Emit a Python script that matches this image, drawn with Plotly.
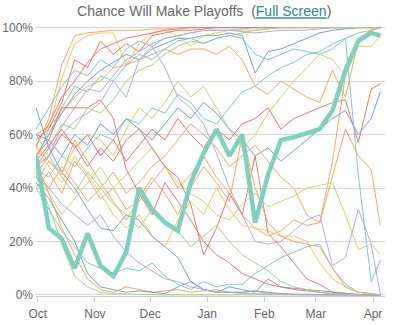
import plotly.graph_objects as go

dates = ["2013-09-30", "2013-10-07", "2013-10-14", "2013-10-21", "2013-10-28",
         "2013-11-04", "2013-11-11", "2013-11-18", "2013-11-25", "2013-12-02",
         "2013-12-09", "2013-12-16", "2013-12-23", "2013-12-30", "2014-01-06",
         "2014-01-13", "2014-01-20", "2014-01-27", "2014-02-03", "2014-02-10",
         "2014-02-17", "2014-02-24", "2014-03-03", "2014-03-10", "2014-03-17",
         "2014-03-24", "2014-03-31", "2014-04-05"]

# highlighted team (percent)
highlight = [52, 25, 21, 10, 23, 11, 7, 16, 40, 32, 27, 24, 42, 53, 62, 52, 60, 27,
             45, 58, 59, 60.5, 62, 69, 84, 95, 98, 97]

# other teams (percent) with their colours
t1 = [55, 66, 86, 97, 98, 98.5, 99, 99, 99, 99.5, 99.5, 100, 100, 100, 100, 100, 100, 100, 100, 100, 100, 100, 100, 100, 100, 100, 100, 100]
t2 = [50, 62, 81, 94, 97, 98, 98, 86, 94, 98, 99, 97, 93, 97, 98, 99, 99, 99, 99.5, 100, 100, 100, 100, 100, 100, 100, 100, 100]
t3 = [58, 62, 72, 88, 85, 95, 90, 94, 91, 97, 98, 99, 99, 99.5, 100, 100, 100, 100, 100, 100, 100, 100, 100, 100, 100, 100, 100, 100]
t4 = [52, 60, 68, 75, 80, 84, 87, 90, 88, 92, 94, 96, 96, 97, 97, 98, 97, 83, 91, 92, 94, 96, 98, 99, 99.5, 100, 100, 100]
t5 = [62, 70, 78, 84, 82, 88, 85, 92, 95, 93, 96, 97, 98, 99, 99, 99, 99.5, 100, 100, 100, 100, 100, 100, 100, 100, 100, 100, 100]
t6 = [60, 63, 68, 74, 78, 80, 85, 86, 88, 90, 92, 90, 92, 92, 90, 93, 88, 78, 75, 80, 77, 74, 72, 84, 74, 95, 99, 100]
t7 = [56, 64, 74, 80, 87, 92, 94, 96, 97, 98, 99, 99.5, 100, 100, 100, 100, 100, 100, 100, 100, 100, 100, 100, 100, 100, 100, 100, 100]
t8 = [45, 52, 63, 70, 77, 76, 82, 88, 91, 94, 96, 97, 98, 99, 99, 99, 98.5, 98, 98.5, 99, 99, 99, 99.5, 100, 100, 100, 100, 100]
t9 = [48, 55, 64, 62, 70, 68, 73, 80, 84, 86, 90, 93, 95, 94, 96, 97, 98, 99, 99.5, 100, 100, 100, 100, 100, 100, 100, 100, 100]
t10 = [42, 50, 46, 55, 60, 58, 52, 62, 70, 66, 72, 80, 74, 78, 70, 62, 55, 60, 68, 74, 80, 85, 90, 88, 82, 93, 93, 97]
t11 = [47, 44, 52, 48, 55, 60, 58, 66, 64, 70, 68, 75, 72, 66, 64, 70, 76, 78, 82, 85, 87, 90, 91, 94, 96, 98, 99, 100]
t12 = [40, 46, 38, 50, 44, 36, 40, 32, 35, 42, 48, 40, 45, 52, 44, 38, 30, 25, 22, 24, 28, 26, 27, 50, 82, 96, 99, 100]
m1 = [50, 56, 62, 55, 60, 52, 58, 50, 56, 62, 58, 66, 60, 55, 62, 58, 64, 66, 70, 62, 66, 68, 70, 72, 73, 57, 77, 79]
m2 = [60, 58, 52, 60, 56, 64, 60, 66, 62, 58, 64, 70, 66, 72, 68, 62, 58, 52, 55, 50, 54, 58, 62, 66, 69, 60, 66, 76]
m3 = [46, 40, 48, 42, 35, 40, 46, 38, 42, 48, 52, 58, 64, 60, 55, 48, 52, 56, 50, 44, 40, 30, 27, 45, 62, 52, 47, 26]
m4 = [44, 38, 30, 36, 42, 48, 40, 45, 50, 55, 48, 42, 38, 35, 30, 28, 34, 38, 33, 35, 37, 40, 41, 42, 30, 17, 19, 15]
m5 = [52, 60, 70, 78, 76, 82, 80, 86, 90, 88, 92, 95, 96, 94, 96, 97, 96, 90, 88, 90, 92, 91, 90, 92, 96, 45, 5, 13]
m6 = [48, 55, 60, 65, 68, 72, 80, 74, 88, 93, 85, 74, 70, 64, 53, 40, 30, 20, 19, 20, 24, 28, 30, 11, 14, 32, 19, 0]
l1 = [45, 33, 19, 7, 3, 1, 0.5, 0.3, 0.2, 0.1, 0, 0, 0, 0, 0, 0, 0, 0, 0, 0, 0, 0, 0, 0, 0, 0, 0, 0]
l2 = [50, 38, 25, 15, 6, 2, 1, 3, 2, 1, 1.5, 2, 1, 1.5, 2, 1, 1, 1.5, 0.5, 0.3, 0.2, 0.1, 0, 0, 0, 0, 0, 0]
l3 = [42, 36, 28, 20, 8, 3, 2, 1, 1.5, 1, 0.5, 3, 5, 2, 1, 1, 1, 1.5, 1, 0.5, 0.3, 0.2, 0.1, 0, 0, 0, 0, 0]
l4 = [52, 58, 70, 70, 70, 73, 66, 47, 38, 30, 42, 35, 28, 20, 15, 12, 8, 6, 4, 3, 2, 1.5, 1, 0.5, 0.3, 0.2, 0.1, 0]
l5 = [55, 48, 42, 52, 45, 38, 30, 25, 30, 22, 18, 28, 35, 30, 40, 32, 26, 25, 24, 22, 22, 20, 12, 6, 3, 1, 0.5, 0]
l6 = [48, 52, 60, 56, 48, 55, 50, 58, 62, 55, 48, 44, 34, 15, 25, 38, 30, 52, 23, 18, 12, 6, 4, 1, 0.5, 0, 0, 0]
l7 = [40, 32, 24, 18, 12, 10, 8, 10, 9, 12, 7, 4, 2, 5, 3, 4, 4, 8, 11, 14, 16, 18, 19, 10, 4, 1, 0.5, 0]
l8 = [70, 55, 46, 40, 32, 25, 24, 30, 28, 22, 18, 14, 5, 2, 1, 3, 2, 1, 6, 3, 2.5, 2, 1.5, 1, 0.5, 0.2, 0, 0]
l9 = [56, 50, 45, 58, 50, 42, 35, 28, 36, 44, 38, 30, 40, 48, 42, 35, 60, 40, 27, 22, 20, 19, 18, 10, 3, 1, 0.5, 0]
l10 = [60, 52, 44, 38, 46, 40, 34, 30, 25, 32, 28, 24, 18, 22, 26, 20, 15, 12, 9, 5, 3, 2, 1, 0.5, 0.2, 0, 0, 0]
l11 = [44, 40, 34, 30, 26, 30, 22, 16, 12, 9, 6, 5, 3, 2, 1, 1, 0.5, 0.5, 0.3, 0.2, 0.1, 0, 0, 0, 0, 0, 0, 0]

RED = "#ee7670"
ORANGE = "#f5a862"
BLUE = "#7ba0cc"
TEAL = "#7ccac4"
LAV = "#b9a9da"
YGREEN = "#c8d76c"
GREEN = "#a3d482"
YELLOW = "#f0c866"

teams = [
    (t1, ORANGE), (t2, YELLOW), (t3, RED), (t4, BLUE), (t5, TEAL), (t6, ORANGE),
    (t7, RED), (t8, LAV), (t9, GREEN), (t10, YGREEN), (t11, TEAL), (t12, ORANGE),
    (m1, RED), (m2, BLUE), (m3, ORANGE), (m4, YGREEN), (m5, TEAL), (m6, LAV),
    (l1, GREEN), (l2, ORANGE), (l3, BLUE), (l4, RED), (l5, YELLOW), (l6, RED),
    (l7, TEAL), (l8, BLUE), (l9, ORANGE), (l10, GREEN), (l11, LAV),
]

fig = go.Figure()
for vals, col in teams:
    fig.add_trace(go.Scatter(x=dates, y=[v / 100 for v in vals], mode="lines",
                             line=dict(color=col, width=1), hoverinfo="skip"))
fig.add_trace(go.Scatter(x=dates, y=[v / 100 for v in highlight], mode="lines",
                         line=dict(color="#7fd0bd", width=4.5), hoverinfo="skip"))

fig.update_layout(
    width=395, height=325,
    margin=dict(l=36, r=10, t=26, b=29, autoexpand=False),
    paper_bgcolor="white", plot_bgcolor="white",
    showlegend=False,
    font=dict(family="Liberation Sans, Arial, sans-serif", color="#666666", size=12),
    title=dict(
        text="Chance Will Make Playoffs&nbsp; (<span style='color:#2b8a83'><u>Full Screen</u></span>)",
        x=0.517, xanchor="center", y=0.965, yanchor="middle",
        font=dict(size=14, color="#666666"),
    ),
    xaxis=dict(
        type="date", range=["2013-09-30", "2014-04-07 12:00"], automargin=False,
        dtick="M1", tick0="2013-10-01", tickformat="%b",
        showgrid=False, zeroline=False, showline=True, linecolor="#cccccc",
        ticks="outside", ticklen=5, tickcolor="#cccccc", ticklabelstandoff=2,
        tickfont=dict(size=12, color="#666666"),
    ),
    yaxis=dict(
        range=[-0.004, 1.006], tickvals=[0, 0.2, 0.4, 0.6, 0.8, 1.0], automargin=False,
        tickformat=".0%", showgrid=True, gridcolor="#d6d6d6", gridwidth=1,
        zeroline=False, showline=False, ticks="", ticklabelstandoff=2,
        tickfont=dict(size=12, color="#666666"),
    ),
)

fig.write_html("out.html")
